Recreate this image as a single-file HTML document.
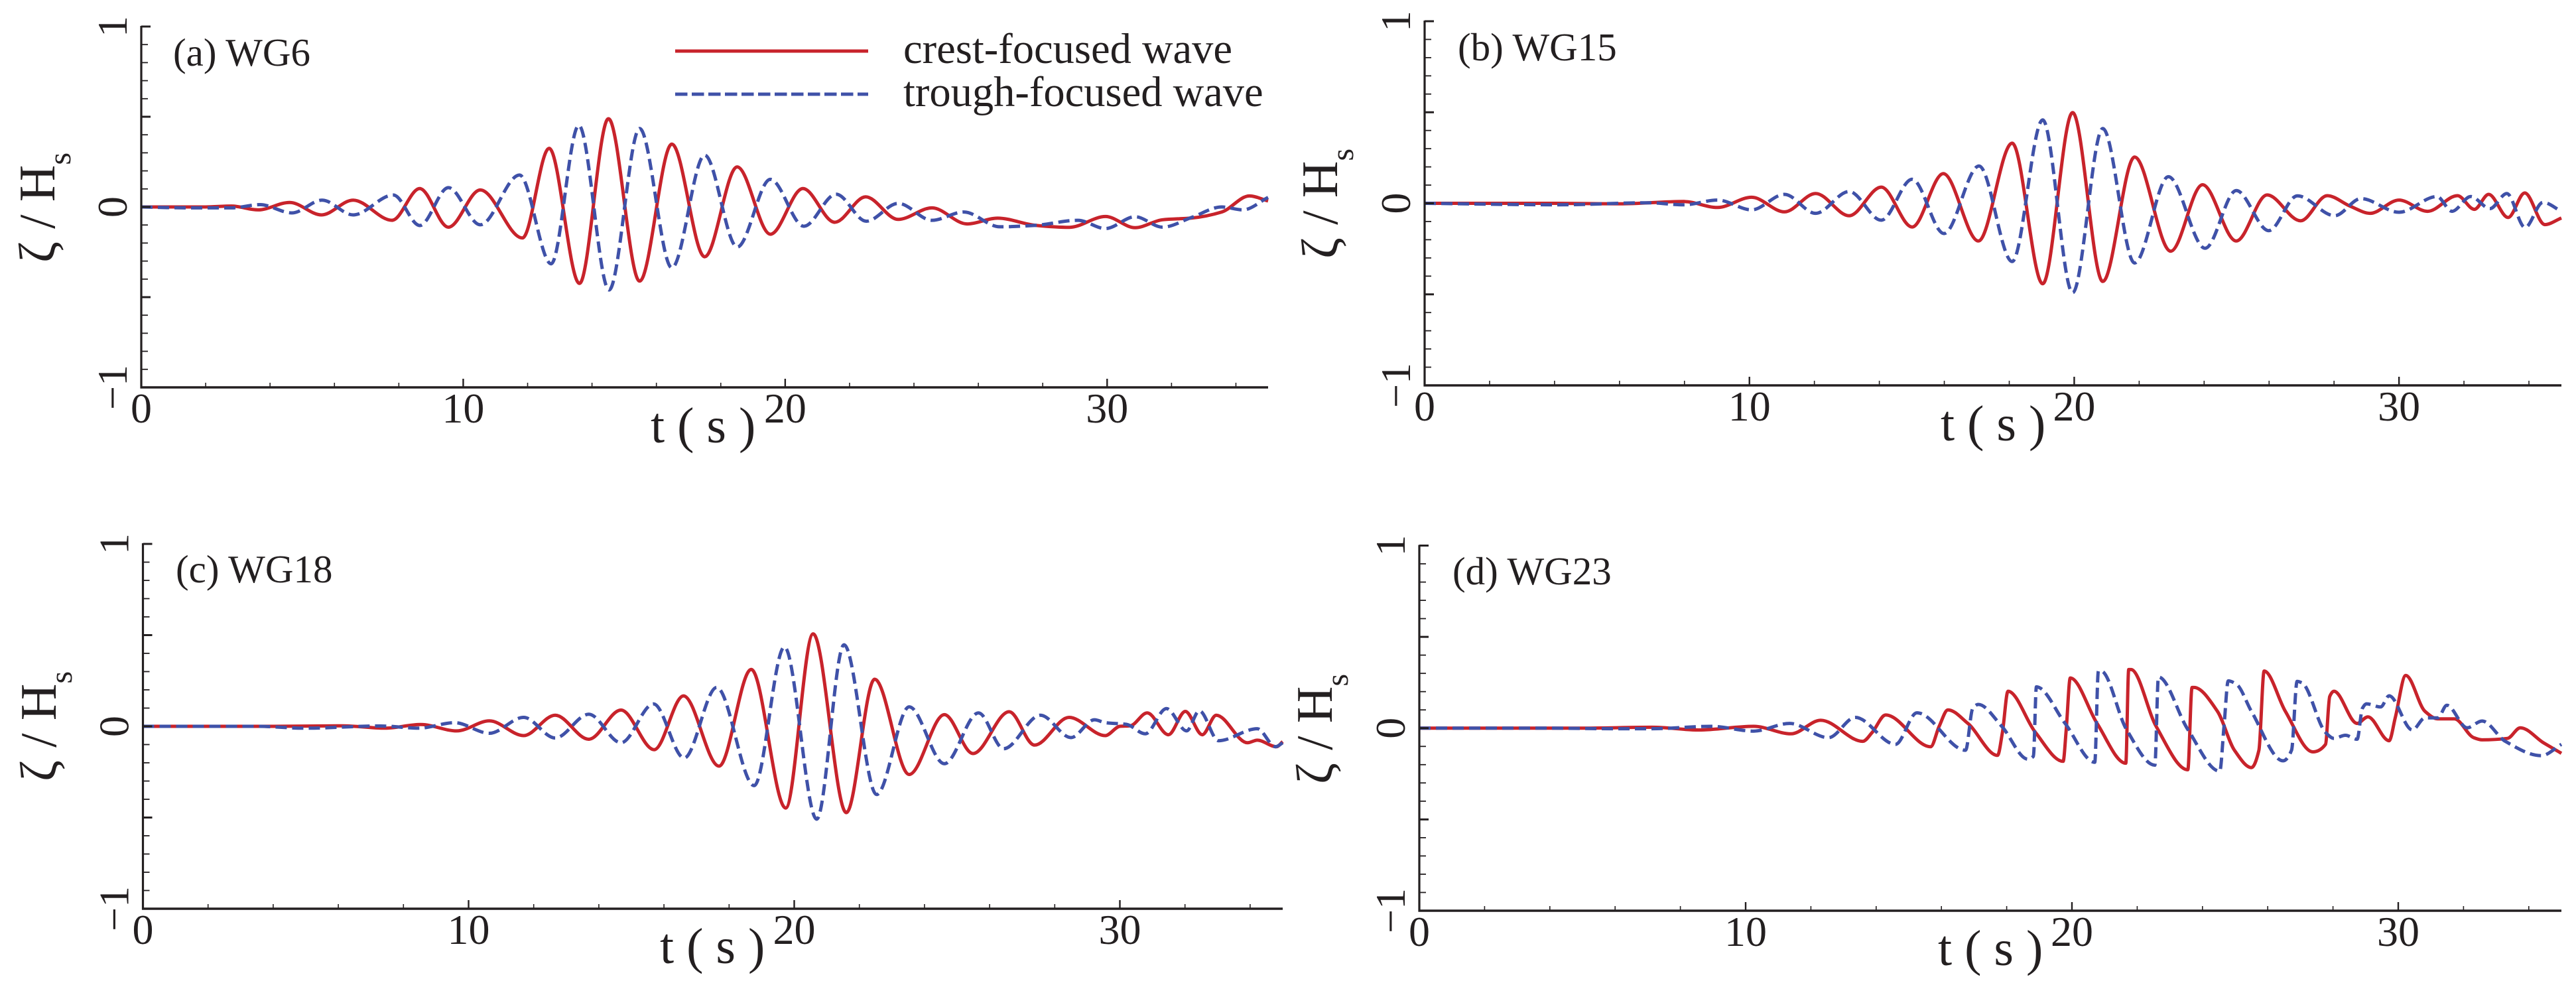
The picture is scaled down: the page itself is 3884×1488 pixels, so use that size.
<!DOCTYPE html>
<html lang="en">
<head>
<meta charset="utf-8">
<title>Wave elevation time series</title>
<style>
html,body{margin:0;padding:0;background:#fff;}
svg{display:block;}
text{font-family:"Liberation Serif",serif;fill:#231f20;}
</style>
</head>
<body>
<svg id="chart" xmlns="http://www.w3.org/2000/svg" width="3884" height="1488" viewBox="0 0 3884 1488">
  <rect x="0" y="0" width="3884" height="1488" fill="#ffffff"/>

  <text x="261" y="99" font-size="59">(a) WG6</text>
  <text x="2198" y="91" font-size="59">(b) WG15</text>
  <text x="265" y="878" font-size="59">(c) WG18</text>
  <text x="2190" y="881" font-size="59">(d) WG23</text>

  <text transform="translate(82,396) rotate(-90)" font-size="77">ζ / H<tspan dy="24" font-size="48">s</tspan></text>
  <text transform="translate(2016,390) rotate(-90)" font-size="77">ζ / H<tspan dy="24" font-size="48">s</tspan></text>
  <text transform="translate(84,1178) rotate(-90)" font-size="77">ζ / H<tspan dy="24" font-size="48">s</tspan></text>
  <text transform="translate(2008,1182) rotate(-90)" font-size="77">ζ / H<tspan dy="24" font-size="48">s</tspan></text>

  <text x="981" y="667" font-size="76" xml:space="preserve">t ( s )</text>
  <text x="2926" y="664" font-size="76" xml:space="preserve">t ( s )</text>
  <text x="995" y="1452" font-size="76" xml:space="preserve">t ( s )</text>
  <text x="2922" y="1455" font-size="76" xml:space="preserve">t ( s )</text>

  <g>
    <line x1="1018" y1="77" x2="1309" y2="77" stroke="#c8232b" stroke-width="5"/>
    <text x="1362" y="95" font-size="64.5">crest-focused wave</text>
    <line x1="1018" y1="142" x2="1309" y2="142" stroke="#3f51a8" stroke-width="5" stroke-dasharray="18.5 6.5"/>
    <text x="1362" y="160" font-size="64.5">trough-focused wave</text>
  </g>
  <g id="plots"></g>
</svg>
<script>
/* axis tick values */
const xMajorTicks = [0, 10, 20, 30];
const xMinorTicks = [2, 4, 6, 8, 12, 14, 16, 18, 22, 24, 26, 28, 32, 34];
const yMajorTicks = [1, 0.5, 0, -0.5, -1];
const yMinorTicks = [0.9, 0.8, 0.7, 0.6, 0.4, 0.3, 0.2, 0.1, -0.1, -0.2, -0.3, -0.4, -0.6, -0.7, -0.8, -0.9];
const yTickLabels = [1, 0, -1];

/* panel (a) WG6 */
const crestTimeA = [0, 2, 2.8, 3.63, 4.61, 5.6, 6.58, 7.79, 8.65, 9.54, 10.53, 11.84, 12.67, 13.61, 14.51, 15.48, 16.48, 17.5, 18.51, 19.54, 20.55, 21.54, 22.5, 23.51, 24.56, 25.65, 26.6, 27.78, 28.83, 29.95, 30.87, 31.72, 32.64, 33.56, 34.42, 35];
const crestEtaA = [0, 0, 0.005, -0.016, 0.025, -0.044, 0.038, -0.074, 0.102, -0.112, 0.094, -0.172, 0.325, -0.424, 0.489, -0.411, 0.348, -0.276, 0.222, -0.151, 0.102, -0.085, 0.056, -0.069, -0.005, -0.094, -0.062, -0.102, -0.113, -0.053, -0.115, -0.071, -0.061, -0.028, 0.061, 0.033];
const troughTimeA = [0, 1.5, 2.8, 3.69, 4.68, 5.62, 6.58, 7.83, 8.65, 9.54, 10.53, 11.75, 12.73, 13.59, 14.53, 15.48, 16.48, 17.5, 18.51, 19.54, 20.58, 21.58, 22.52, 23.51, 24.56, 25.55, 26.66, 27.78, 29.09, 29.95, 30.87, 31.72, 32.64, 33.56, 34.22, 35];
const troughEtaA = [0, -0.005, -0.005, 0.013, -0.033, 0.038, -0.044, 0.066, -0.103, 0.107, -0.099, 0.177, -0.315, 0.452, -0.46, 0.435, -0.337, 0.287, -0.222, 0.153, -0.107, 0.071, -0.079, 0.02, -0.074, -0.028, -0.11, -0.102, -0.074, -0.12, -0.054, -0.112, -0.057, 0, -0.016, 0.053];

/* panel (b) WG15 */
const crestTimeB = [0, 4, 6, 7.98, 9.02, 10.07, 11.08, 12.04, 13.07, 14.06, 15.01, 15.97, 17.05, 18.09, 19.03, 19.95, 20.88, 21.86, 22.97, 23.95, 24.99, 25.94, 26.97, 27.79, 28.5, 29.11, 30, 30.88, 31.8, 32.32, 32.76, 33.36, 33.87, 34.49, 35];
const crestEtaB = [0, 0, -0.003, 0.01, -0.023, 0.033, -0.047, 0.054, -0.068, 0.089, -0.13, 0.163, -0.207, 0.33, -0.442, 0.498, -0.429, 0.254, -0.263, 0.102, -0.207, 0.046, -0.096, 0.042, -0.016, -0.055, 0.018, -0.044, 0.042, -0.033, 0.049, -0.078, 0.057, -0.117, -0.081];
const troughTimeB = [0, 4.14, 6.88, 7.98, 9.02, 10.07, 11.08, 12.04, 13.07, 14.06, 15.01, 15.99, 17.07, 18.09, 19.03, 19.95, 20.88, 21.86, 22.9, 24.03, 24.99, 25.99, 26.87, 28.02, 28.83, 30, 31.17, 31.63, 32.21, 32.8, 33.32, 33.88, 34.43, 35];
const troughEtaB = [0, -0.008, 0.003, -0.008, 0.018, -0.036, 0.049, -0.055, 0.065, -0.093, 0.132, -0.166, 0.205, -0.32, 0.458, -0.491, 0.411, -0.328, 0.146, -0.247, 0.07, -0.15, 0.041, -0.068, 0.026, -0.049, 0.037, -0.044, 0.037, -0.029, 0.054, -0.133, 0.005, -0.044];

/* panel (c) WG18 */
const crestTimeC = [0, 4, 6.13, 7.43, 8.53, 9.64, 10.64, 11.69, 12.66, 13.69, 14.68, 15.7, 16.6, 17.69, 18.68, 19.74, 20.58, 21.6, 22.47, 23.53, 24.61, 25.49, 26.6, 27.38, 28.44, 29.55, 30, 30.32, 30.84, 31.49, 32.01, 32.53, 32.96, 33.92, 34.22, 34.81, 35];
const crestEtaC = [0, 0, 0.003, -0.01, 0.01, -0.025, 0.03, -0.051, 0.061, -0.071, 0.089, -0.128, 0.167, -0.218, 0.312, -0.448, 0.507, -0.473, 0.258, -0.264, 0.064, -0.149, 0.08, -0.103, 0.049, -0.051, 0, 0.003, 0.074, -0.046, 0.082, -0.046, 0.061, -0.09, -0.076, -0.112, -0.084];
const troughTimeC = [0, 3.5, 4.96, 7.3, 8.47, 9.57, 10.64, 11.69, 12.66, 13.69, 14.68, 15.68, 16.62, 17.62, 18.77, 19.7, 20.69, 21.53, 22.53, 23.53, 24.61, 25.66, 26.43, 27.56, 28.5, 29.22, 29.55, 30.2, 30.78, 31.43, 32.05, 32.44, 33.03, 34.22, 34.78, 35];
const troughEtaC = [0, 0, -0.01, 0.002, -0.01, 0.02, -0.038, 0.049, -0.064, 0.066, -0.09, 0.123, -0.174, 0.213, -0.325, 0.435, -0.509, 0.447, -0.374, 0.107, -0.205, 0.074, -0.123, 0.061, -0.062, 0.036, 0.02, 0.011, -0.041, 0.097, -0.025, 0.085, -0.079, -0.013, -0.112, -0.09];

/* panel (d) WG23 */
const crestTimeD = [0, 5, 7.13, 8.56, 10.25, 11.39, 12.3, 13.59, 13.88, 14.29, 15.67, 15.93, 16.2, 16.81, 17.72, 17.87, 18.04, 18.88, 19.73, 19.82, 19.95, 20.77, 21.65, 21.74, 21.81, 22.58, 23.55, 23.68, 23.74, 24.46, 24.98, 25.5, 25.73, 25.89, 26.54, 27.38, 27.77, 27.9, 28.03, 28.74, 29.07, 29.72, 29.91, 30.23, 30.82, 31.21, 31.72, 32.31, 32.57, 33.35, 33.74, 34.45, 35];
const crestEtaD = [0, 0, 0.005, -0.01, 0.01, -0.031, 0.043, -0.072, -0.023, 0.072, -0.102, 0.01, 0.1, 0.026, -0.149, -0.023, 0.202, -0.023, -0.182, -0.02, 0.275, 0.026, -0.192, 0.321, 0.321, 0.01, -0.228, 0.223, 0.223, 0.092, -0.121, -0.216, -0.121, 0.313, 0.092, -0.13, -0.089, 0.174, 0.202, 0.026, 0.062, -0.069, 0.059, 0.289, 0.092, 0.051, 0.051, -0.052, -0.064, -0.056, 0.002, -0.08, -0.138];
const troughTimeD = [0, 4, 5.97, 7.13, 8.95, 10.25, 11.35, 12.54, 13.36, 14.59, 15.25, 16.74, 16.96, 17.13, 17.85, 18.65, 18.82, 18.91, 19.79, 20.7, 20.81, 20.89, 21.67, 22.54, 22.65, 23.55, 24.53, 24.66, 24.79, 25.05, 25.5, 26.47, 26.73, 26.9, 27.05, 27.77, 28.03, 28.38, 28.74, 28.9, 29.03, 29.46, 29.72, 30.43, 30.82, 31.21, 31.49, 32.11, 32.57, 33.28, 34.38, 35];
const troughEtaD = [0, 0, -0.003, -0.003, 0.01, -0.016, 0.026, -0.052, 0.059, -0.089, 0.084, -0.121, 0.108, 0.13, 0.01, -0.17, -0.154, 0.226, 0.026, -0.187, 0.313, 0.313, -0.007, -0.203, 0.28, -0.007, -0.236, 0.01, 0.259, 0.239, 0.092, -0.179, -0.121, 0.256, 0.248, -0.023, -0.056, -0.039, -0.061, 0.108, 0.133, 0.116, 0.177, -0.01, 0.056, 0.056, 0.125, 0.002, 0.039, -0.072, -0.151, -0.089];

const SVG_NS = 'http://www.w3.org/2000/svg';
const INK = '#231f20';
const plots = document.getElementById('plots');

function make(tag, attrs, parent) {
  const el = document.createElementNS(SVG_NS, tag);
  for (const k in attrs) el.setAttribute(k, attrs[k]);
  parent.appendChild(el);
  return el;
}

/* monotone cubic path through the read-off samples */
function curvePath(ts, vs, sx, sy) {
  const xs = ts.map(sx), ys = vs.map(sy), n = xs.length;
  const sec = [], m = new Array(n).fill(0);
  for (let i = 0; i < n - 1; i++) sec.push((ys[i + 1] - ys[i]) / (xs[i + 1] - xs[i]));
  for (let i = 1; i < n - 1; i++) {
    if (sec[i - 1] * sec[i] > 0) {
      const h0 = xs[i] - xs[i - 1], h1 = xs[i + 1] - xs[i];
      const w1 = 2 * h1 + h0, w2 = h1 + 2 * h0;
      m[i] = (w1 + w2) / (w1 / sec[i - 1] + w2 / sec[i]);
    }
  }
  m[0] = sec[0];
  m[n - 1] = sec[n - 2];
  let d = 'M' + xs[0].toFixed(1) + ' ' + ys[0].toFixed(1);
  for (let i = 0; i < n - 1; i++) {
    const h = (xs[i + 1] - xs[i]) / 3;
    d += 'C' + (xs[i] + h).toFixed(1) + ' ' + (ys[i] + m[i] * h).toFixed(1) + ' ' +
      (xs[i + 1] - h).toFixed(1) + ' ' + (ys[i + 1] - m[i + 1] * h).toFixed(1) + ' ' +
      xs[i + 1].toFixed(1) + ' ' + ys[i + 1].toFixed(1);
  }
  return d;
}

function drawPanel(id, left, right, top, bottom, crestT, crestV, troughT, troughV) {
  const sx = t => left + t * (right - left) / 35;
  const sy = v => (top + bottom) / 2 - v * (bottom - top) / 2;
  const g = make('g', {}, plots);
  
  

  const crest = make('path', { d: curvePath(crestT, crestV, sx, sy), fill: 'none', stroke: '#c8232b', 'stroke-width': 5, 'stroke-linejoin': 'round' }, g);
  
  
  const trough = make('path', { d: curvePath(troughT, troughV, sx, sy), fill: 'none', stroke: '#3f51a8', 'stroke-width': 5, 'stroke-dasharray': '17 8', 'stroke-linejoin': 'round' }, g);
  
  

  const yAxis = make('line', { x1: left, y1: top - 1, x2: left, y2: bottom + 1.5, stroke: INK, 'stroke-width': 3.2 }, g);
  
  
  const xAxis = make('line', { x1: left - 1.5, y1: bottom, x2: right, y2: bottom, stroke: INK, 'stroke-width': 3.6 }, g);
  
  

  xMajorTicks.forEach(t => {
    const tick = make('line', { x1: sx(t), y1: bottom, x2: sx(t), y2: bottom - 13, stroke: INK, 'stroke-width': 2.4 }, g);
    
    
    const label = make('text', { x: sx(t), y: bottom + 53, 'font-size': 64, 'text-anchor': 'middle' }, g);
    
    
    label.textContent = String(t);
  });
  xMinorTicks.forEach(t => {
    const tick = make('line', { x1: sx(t), y1: bottom, x2: sx(t), y2: bottom - 7, stroke: INK, 'stroke-width': 1.6 }, g);
    
    
  });
  yMajorTicks.forEach(v => {
    const tick = make('line', { x1: left, y1: sy(v), x2: left + 14, y2: sy(v), stroke: INK, 'stroke-width': 3 }, g);
    
    
  });
  yMinorTicks.forEach(v => {
    const tick = make('line', { x1: left, y1: sy(v), x2: left + 10, y2: sy(v), stroke: INK, 'stroke-width': 1.8 }, g);
    
    
  });
  yTickLabels.forEach(v => {
    const label = make('text', { transform: 'translate(' + (left - 22) + ',' + sy(v) + ') rotate(-90)', 'font-size': 64, 'text-anchor': 'middle' }, g);
    
    
    label.textContent = v < 0 ? '\u2212' + Math.abs(v) : String(v);
  });
}

drawPanel('a', 213, 1912, 40, 584, crestTimeA, crestEtaA, troughTimeA, troughEtaA);
drawPanel('b', 2148, 3862, 32, 581, crestTimeB, crestEtaB, troughTimeB, troughEtaB);
drawPanel('c', 215.5, 1934, 820, 1370, crestTimeC, crestEtaC, troughTimeC, troughEtaC);
drawPanel('d', 2140, 3862, 822.5, 1373, crestTimeD, crestEtaD, troughTimeD, troughEtaD);
</script>
</body>
</html>
